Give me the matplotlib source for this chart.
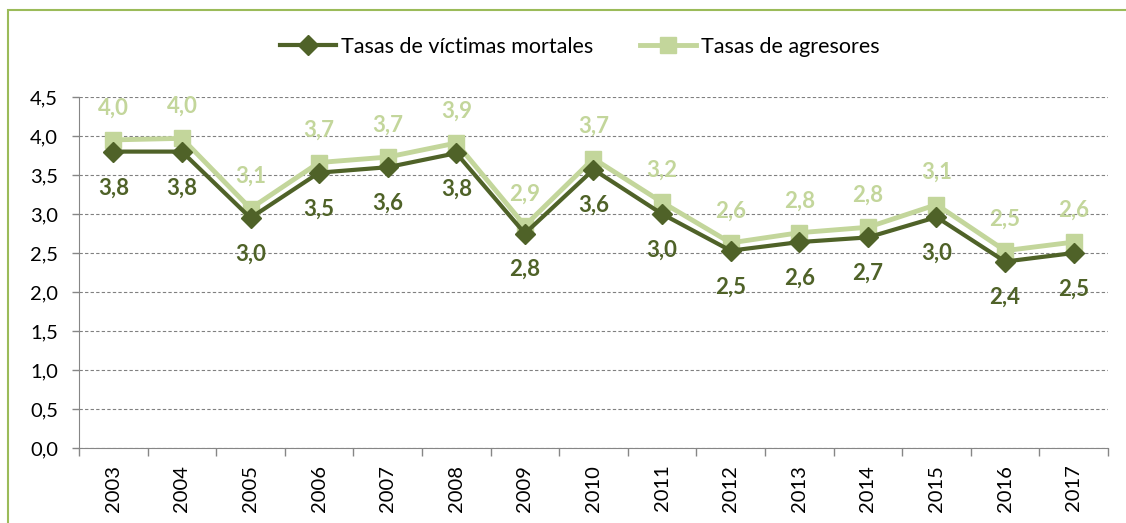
import matplotlib.pyplot as plt
from matplotlib.patches import Rectangle

years = ['2003', '2004', '2005', '2006', '2007', '2008', '2009', '2010',
         '2011', '2012', '2013', '2014', '2015', '2016', '2017']
victimas = [3.80, 3.80, 2.95, 3.53, 3.60, 3.78, 2.75, 3.57,
            3.00, 2.53, 2.64, 2.70, 2.96, 2.39, 2.50]
agresores = [3.95, 3.97, 3.07, 3.66, 3.73, 3.91, 2.85, 3.71,
             3.15, 2.63, 2.76, 2.83, 3.12, 2.53, 2.64]
label_victimas = ['3,8', '3,8', '3,0', '3,5', '3,6', '3,8', '2,8', '3,6',
                  '3,0', '2,5', '2,6', '2,7', '3,0', '2,4', '2,5']
label_agresores = ['4,0', '4,0', '3,1', '3,7', '3,7', '3,9', '2,9', '3,7',
                   '3,2', '2,6', '2,8', '2,8', '3,1', '2,5', '2,6']
yticks = [0, 0.5, 1, 1.5, 2, 2.5, 3, 3.5, 4, 4.5]
ytick_labels = ['0,0', '0,5', '1,0', '1,5', '2,0', '2,5', '3,0', '3,5', '4,0', '4,5']

dark = '#4f6228'
light = '#c3d69b'

plt.rcParams['font.family'] = ['Lato', 'DejaVu Sans']

fig = plt.figure(figsize=(11.26, 5.23), dpi=100)
ax = fig.add_axes([79 / 1126, 1 - 448 / 523, 1029 / 1126, 351 / 523])

# green frame of the chart area
fig.patches.append(Rectangle((8 / 1126, -0.1), 1.2, 1 - 10 / 523 + 0.1,
                             transform=fig.transFigure, fill=False,
                             edgecolor='#9bbb59', linewidth=1.5))

x = list(range(len(years)))
ax.plot(x, victimas, color=dark, lw=3, marker='D', ms=10, zorder=3,
        label='Tasas de víctimas mortales')
ax.plot(x, agresores, color=light, lw=3.5, marker='s', ms=12, zorder=2,
        label='Tasas de agresores')

for i in x:
    ax.annotate(label_victimas[i], (i, victimas[i]), xytext=(0, -26),
                textcoords='offset points', ha='center', va='center',
                color=dark, fontsize=16, fontweight='bold')
    ax.annotate(label_agresores[i], (i, agresores[i]), xytext=(0, 23),
                textcoords='offset points', ha='center', va='center',
                color=light, fontsize=16, fontweight='bold')

ax.set_xlim(-0.5, len(years) - 0.5)
ax.set_ylim(0, 4.5)
ax.set_yticks(yticks)
ax.set_yticklabels(ytick_labels, fontsize=14.5)
ax.set_xticks(x)
ax.set_xticklabels(years, rotation=90, fontsize=14.5)
ax.set_xticks([i - 0.5 for i in range(len(years) + 1)], minor=True)
ax.tick_params(axis='x', which='major', length=0, pad=12)
ax.tick_params(axis='x', which='minor', length=6, color='#868686', width=1)
ax.tick_params(axis='y', length=5, color='#868686', width=1, pad=10)

ax.grid(axis='y', color='#808080', linestyle=(0, (3, 2)), linewidth=0.8)
ax.set_axisbelow(True)
for side in ['top', 'right']:
    ax.spines[side].set_visible(False)
ax.spines['left'].set_color('#868686')
ax.spines['bottom'].set_color('#868686')

fig.legend(loc='center', bbox_to_anchor=(0.515, 1 - 47 / 523), ncol=2,
           frameon=False, fontsize=15.5, handlelength=2.6, columnspacing=2.2,
           handletextpad=0.2)

fig.savefig('out.png', dpi=100)
